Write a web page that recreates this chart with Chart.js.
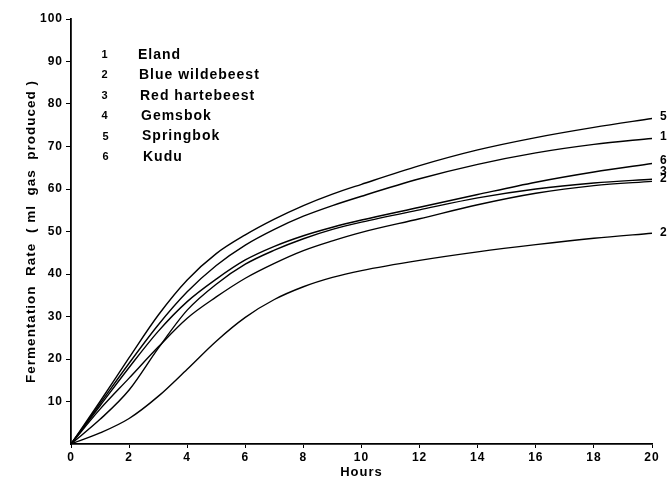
<!DOCTYPE html>
<html><head><meta charset="utf-8">
<script src="https://cdn.jsdelivr.net/npm/chart.js@4/dist/chart.umd.min.js"></script>
<style>html,body{margin:0;padding:0;background:#fff}</style>
</head><body>
<canvas id="c" width="667" height="484"></canvas>
<script>
// ---- data ----
const hours = [0, 1, 2, 3, 4, 5, 6, 7, 8, 9, 10, 12, 14, 16, 18, 20];
const speciesNumbers = ['1', '2', '3', '4', '5', '6'];
const speciesNames = ['Eland', 'Blue wildebeest', 'Red hartebeest', 'Gemsbok', 'Springbok', 'Kudu'];
const endLabels = ['1', '2', '3', '2', '5', '6'];
const eland          = [0, 9.5, 19, 28, 35.8, 42, 46.8, 50.5, 53.6, 56.1, 58.3, 62.4, 65.8, 68.5, 70.5, 71.9];
const blueWildebeest = [0, 2.6, 6, 11.2, 17.6, 24.2, 29.8, 34, 37, 39.2, 40.8, 43.2, 45.2, 46.9, 48.4, 49.6];
const redHartebeest  = [0, 5.8, 12.7, 22.5, 31.5, 37.6, 42.3, 45.6, 48.3, 50.5, 52.2, 55.1, 57.9, 60, 61.4, 62.3];
const gemsbok        = [0, 8.2, 15.5, 22.8, 29.6, 34.6, 39, 42.5, 45.5, 47.8, 49.8, 53, 56.3, 59, 60.8, 61.8];
const springbok      = [0, 10, 20.3, 30.3, 38.6, 44.8, 49.2, 52.9, 56.1, 58.8, 61.1, 65.5, 69.2, 72.1, 74.5, 76.6];
const kudu           = [0, 9, 18, 26.5, 33.5, 38.8, 43.3, 46.5, 49, 51, 52.7, 55.7, 58.7, 61.6, 64, 66];
const xTickValues = [0, 2, 4, 6, 8, 10, 12, 14, 16, 18, 20];
const yTickValues = [10, 20, 30, 40, 50, 60, 70, 80, 90, 100];
const xTitle = 'Hours';
const yTitle = 'Fermentation  Rate  ( ml  gas  produced )';

const seriesList = [eland, blueWildebeest, redHartebeest, gemsbok, springbok, kudu];
const FONT = '"Liberation Sans", Arial, Helvetica, sans-serif';
const endLabelShift = [-2, -1, -8, -3, -1.5, -3];

const annotate = {
  id: 'annotate',
  beforeDraw(chart) { chart.ctx.letterSpacing = '1px'; },
  afterDatasetsDraw(chart) {
    const ctx = chart.ctx, xs = chart.scales.x, ys = chart.scales.y;
    ctx.save();
    ctx.letterSpacing = '1px';
    ctx.fillStyle = '#000';
    ctx.textBaseline = 'middle';
    speciesNames.forEach((name, i) => {
      const yy = 55 + i * 20.4;
      ctx.font = 'bold 11px ' + FONT;
      ctx.textAlign = 'center';
      ctx.fillText(speciesNumbers[i], 105 + (i >= 4 ? 1 : 0), yy);
      ctx.font = 'bold 14px ' + FONT;
      ctx.textAlign = 'left';
      ctx.fillText(name, 138 + i * 1, yy);
    });
    ctx.font = 'bold 12px ' + FONT;
    ctx.textAlign = 'left';
    chart.data.datasets.forEach((ds, i) => {
      const p = ds.data[ds.data.length - 1];
      ctx.fillText(endLabels[i], xs.getPixelForValue(p.x) + 8, ys.getPixelForValue(p.y) + endLabelShift[i]);
    });
    ctx.restore();
  }
};

new Chart(document.getElementById('c'), {
  type: 'line',
  data: {
    datasets: seriesList.map((s, i) => ({
      label: speciesNames[i],
      data: hours.map((h, k) => ({ x: h, y: s[k] })),
      borderColor: '#000',
      borderWidth: 1.4,
      pointRadius: 0,
      fill: false,
      cubicInterpolationMode: 'monotone'
    }))
  },
  options: {
    responsive: false,
    animation: false,
    devicePixelRatio: 1,
    layout: { padding: { top: 19, right: 15, bottom: 0, left: 0 } },
    plugins: { legend: { display: false }, tooltip: { enabled: false } },
    scales: {
      x: {
        type: 'linear', min: 0, max: 20,
        afterBuildTicks: s => { s.ticks = xTickValues.map(v => ({ value: v })); },
        afterFit: s => { s.height = 40; },
        ticks: { color: '#000', font: { family: FONT, size: 12, weight: 'bold' }, padding: 2, maxRotation: 0, autoSkip: false },
        grid: { drawOnChartArea: false, drawTicks: true, tickLength: 4, color: '#000', lineWidth: 1 },
        border: { color: '#000', width: 1.8 },
        title: { display: true, text: xTitle, color: '#000', font: { family: FONT, size: 13, weight: 'bold' }, padding: { top: 0, bottom: 4 } }
      },
      y: {
        type: 'linear', min: 0, max: 100,
        afterBuildTicks: s => { s.ticks = yTickValues.map(v => ({ value: v })); },
        afterFit: s => { s.width = 71; },
        ticks: { color: '#000', font: { family: FONT, size: 12, weight: 'bold' }, padding: 3 },
        grid: { drawOnChartArea: false, drawTicks: true, tickLength: 5, color: '#000', lineWidth: 1 },
        border: { color: '#000', width: 1.8 },
        title: { display: true, text: yTitle, color: '#000', font: { family: FONT, size: 13.5, weight: 'bold' }, padding: { top: 23, bottom: 0 } }
      }
    }
  },
  plugins: [annotate]
});
</script>
</body></html>
